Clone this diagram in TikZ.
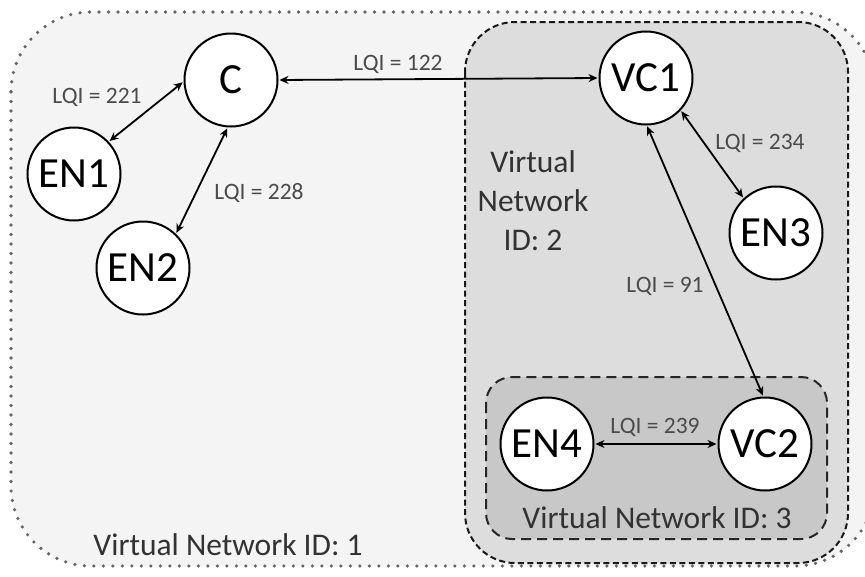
\documentclass[tikz,border=0pt]{standalone}
\usepackage{fontspec}
\setmainfont{Carlito}
\usetikzlibrary{arrows.meta}
\definecolor{outerfill}{RGB}{244,244,244}
\definecolor{vnfill}{RGB}{221,221,221}
\definecolor{subfill}{RGB}{200,200,200}
\definecolor{lqigray}{RGB}{75,75,75}
\definecolor{vngray}{RGB}{50,50,50}
\newcommand{\netnode}[3]{%
	\node[netnode] (#1) at (#2) {#3};
}
\newcommand{\lqi}[3]{%
	\node[lqilabel] (#1) at (#2) {LQI = #3};
}
\newcommand{\lqilink}[2]{%
	\draw[lqiarrow] (#1) -- (#2);
}

\begin{document}
\begin{tikzpicture}[x=1pt,y=-1pt,
	netnode/.style={circle, draw=black, line width=2pt, fill=white, minimum size=93pt, inner sep=0pt, font=\fontsize{43}{45}\selectfont},
	lqilabel/.style={text=lqigray, inner sep=1pt, font=\fontsize{23.5}{25}\selectfont},
	vnlabel/.style={text=vngray, inner sep=1pt, align=center, font=\fontsize{31.5}{39}\selectfont},
	lqiarrow/.style={<->, >={Stealth[length=9pt,width=8pt]}, line width=1.8pt, shorten <=1pt, shorten >=1pt}]

	\useasboundingbox (0,0) rectangle (865,576);
	\fill[white] (0,0) rectangle (865,576);

	% virtual networks
	\draw[fill=outerfill, draw=black!60, line width=3.6pt, line cap=round, dash pattern=on 0pt off 9.5pt, rounded corners=80pt]
		(11,12) rectangle (875,566);
	\draw[fill=vnfill, draw=black!90, line width=2pt, dash pattern=on 6pt off 3.5pt, rounded corners=50pt]
		(465,22) rectangle (848,563);
	\draw[fill=subfill, draw=black!85, line width=2pt, dash pattern=on 10pt off 6pt, rounded corners=26pt]
		(486,377) rectangle (827,539);

	\node[vnlabel] (vnone) at (228,545) {Virtual Network ID: 1};
	\node[vnlabel] (vntwo) at (533,201) {Virtual\\Network\\ID: 2};
	\node[vnlabel] (vnthree) at (657,518) {Virtual Network ID: 3};

	% nodes
	\netnode{C}{231,80}{C}
	\netnode{EN1}{74,174}{EN1}
	\netnode{EN2}{143,268}{EN2}
	\netnode{VC1}{646,78}{VC1}
	\netnode{EN3}{776,233}{EN3}
	\netnode{EN4}{547,444}{EN4}
	\netnode{VC2}{765,444}{VC2}

	% links
	\lqilink{C.182}{EN1.43}
	\lqilink{C.266}{EN2.46}
	\lqilink{C.east}{VC1.west}
	\lqilink{VC1.317}{EN3.133}
	\lqilink{VC1.271}{VC2.92}
	\lqilink{EN4.east}{VC2.west}

	\lqi{lqiA}{97,97}{221}
	\lqi{lqiB}{259,193}{228}
	\lqi{lqiC}{398,64}{122}
	\lqi{lqiD}{760,143}{234}
	\lqi{lqiE}{665,286}{91}
	\lqi{lqiF}{655,427}{239}

\end{tikzpicture}
\end{document}
